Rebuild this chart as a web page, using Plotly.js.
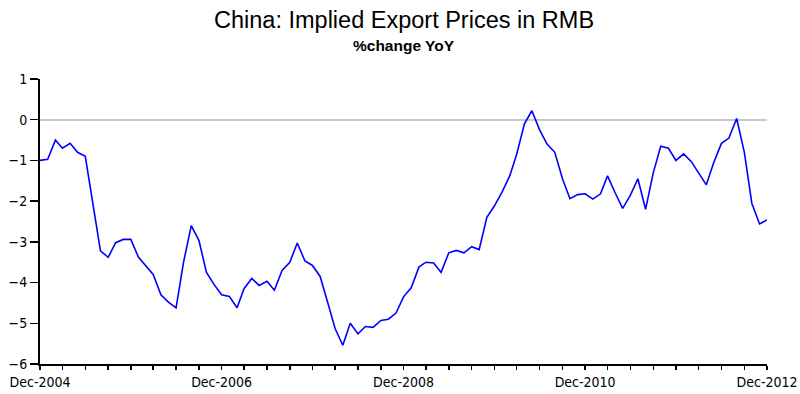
<!DOCTYPE html>
<html>
<head>
<meta charset="utf-8">
<script src="https://cdn.plot.ly/plotly-3.0.1.min.js"></script>
<style>
  html, body { margin: 0; padding: 0; background: #fff; }
  #chart { width: 800px; height: 394px; }
</style>
</head>
<body>
<div id="chart"></div>
<script>
// Monthly observations, Dec-2004 .. Dec-2012
const months = [
  "2004-12",
  "2005-01","2005-02","2005-03","2005-04","2005-05","2005-06","2005-07","2005-08","2005-09","2005-10","2005-11","2005-12",
  "2006-01","2006-02","2006-03","2006-04","2006-05","2006-06","2006-07","2006-08","2006-09","2006-10","2006-11","2006-12",
  "2007-01","2007-02","2007-03","2007-04","2007-05","2007-06","2007-07","2007-08","2007-09","2007-10","2007-11","2007-12",
  "2008-01","2008-02","2008-03","2008-04","2008-05","2008-06","2008-07","2008-08","2008-09","2008-10","2008-11","2008-12",
  "2009-01","2009-02","2009-03","2009-04","2009-05","2009-06","2009-07","2009-08","2009-09","2009-10","2009-11","2009-12",
  "2010-01","2010-02","2010-03","2010-04","2010-05","2010-06","2010-07","2010-08","2010-09","2010-10","2010-11","2010-12",
  "2011-01","2011-02","2011-03","2011-04","2011-05","2011-06","2011-07","2011-08","2011-09","2011-10","2011-11","2011-12",
  "2012-01","2012-02","2012-03","2012-04","2012-05","2012-06","2012-07","2012-08","2012-09","2012-10","2012-11","2012-12"
];

// Implied export prices in RMB, % change YoY
const exportPriceYoY = [
  -1.0,
  -0.97, -0.5, -0.7, -0.58, -0.8, -0.9, -2.1, -3.22, -3.38, -3.02, -2.94, -2.94,
  -3.38, -3.6, -3.8, -4.3, -4.48, -4.62, -3.5, -2.6, -2.97, -3.75, -4.05, -4.3,
  -4.34, -4.62, -4.15, -3.9, -4.07, -3.97, -4.19, -3.7, -3.5, -3.03, -3.47, -3.58,
  -3.85, -4.5, -5.13, -5.54, -5.0, -5.26, -5.08, -5.1, -4.93, -4.9, -4.75, -4.35,
  -4.13, -3.62, -3.5, -3.52, -3.75, -3.27, -3.21, -3.27, -3.12, -3.19, -2.4, -2.12,
  -1.78, -1.38, -0.85, -0.1, 0.22, -0.25, -0.6, -0.8, -1.45, -1.94, -1.84, -1.82,
  -1.95, -1.82, -1.38, -1.8, -2.18, -1.85, -1.45, -2.2, -1.3, -0.65, -0.7, -1.0,
  -0.84, -1.03, -1.32, -1.6, -1.05, -0.58, -0.45, 0.03, -0.8, -2.05, -2.56, -2.46
];

const yTicks = [-6, -5, -4, -3, -2, -1, 0, 1];
const xTicks = ["2004-12-01", "2006-12-01", "2008-12-01", "2010-12-01", "2012-12-01"];
const xTickLabels = ["Dec-2004", "Dec-2006", "Dec-2008", "Dec-2010", "Dec-2012"];
const titleText = "China: Implied Export Prices in RMB";
const subtitleText = "%change YoY";

const tickFamily = "'DejaVu Sans Condensed', 'DejaVu Sans', sans-serif";
const titleFamily = "'Liberation Sans', Arial, sans-serif";

const trace = {
  x: months,
  y: exportPriceYoY,
  type: "scatter",
  mode: "lines",
  line: { color: "#0000ff", width: 1.6 },
  hoverinfo: "x+y"
};

const layout = {
  width: 800,
  height: 394,
  margin: { l: 40, r: 33, t: 79, b: 30 },
  paper_bgcolor: "#ffffff",
  plot_bgcolor: "#ffffff",
  showlegend: false,
  font: { family: tickFamily, color: "#000000", size: 14 },
  xaxis: {
    type: "date",
    range: ["2004-12-01", "2012-12-01"],
    tickmode: "array",
    tickvals: xTicks,
    ticktext: xTickLabels,
    ticks: "outside",
    ticklen: 4,
    tickwidth: 1.5,
    tickcolor: "#000000",
    showline: true,
    linecolor: "#000000",
    linewidth: 2,
    showgrid: false,
    zeroline: false,
    tickfont: { family: tickFamily, size: 14, color: "#000000" },
    minor: { dtick: "M3", tick0: "2004-12-01", ticks: "outside", ticklen: 4, tickwidth: 1.5, tickcolor: "#000000", showgrid: false }
  },
  yaxis: {
    range: [-6, 1],
    tickvals: yTicks,
    ticks: "outside",
    ticklen: 8,
    tickwidth: 1.5,
    tickcolor: "#000000",
    showline: true,
    linecolor: "#000000",
    linewidth: 2,
    showgrid: false,
    zeroline: true,
    zerolinecolor: "#c8c8c8",
    zerolinewidth: 2,
    tickfont: { family: tickFamily, size: 14, color: "#000000" }
  },
  annotations: [
    {
      text: titleText, xref: "paper", yref: "paper", x: 0.5, y: 1, xanchor: "center", yanchor: "bottom",
      yshift: 44, showarrow: false,
      font: { family: titleFamily, size: 23.5, color: "#000000" }
    },
    {
      text: "<b>" + subtitleText + "</b>", xref: "paper", yref: "paper", x: 0.5, y: 1, xanchor: "center", yanchor: "bottom",
      yshift: 23, showarrow: false,
      font: { family: titleFamily, size: 15.5, color: "#000000" }
    }
  ]
};

Plotly.newPlot("chart", [trace], layout, { staticPlot: true, displayModeBar: false });
</script>
</body>
</html>
